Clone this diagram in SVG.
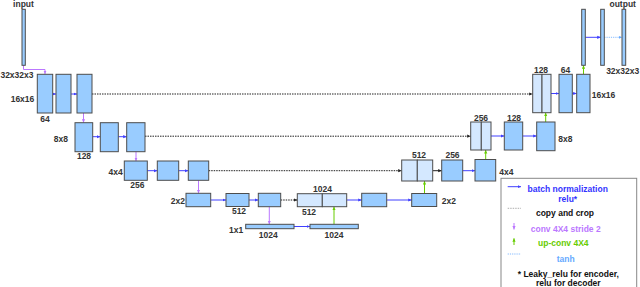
<svg xmlns="http://www.w3.org/2000/svg" width="640" height="287" viewBox="0 0 640 287">
<style>
.b{fill:#99ccff;stroke:#4d4d4d;stroke-width:1}
.l{fill:#d4e8ff;stroke:#4d4d4d;stroke-width:1}
.t{font-family:"Liberation Sans",Arial,sans-serif;font-weight:bold;font-size:8.5px;fill:#333}
.m{text-anchor:middle}
.e{text-anchor:end}
.cb{stroke:#4040ff;stroke-width:1;fill:none}
.ck{stroke:#222;stroke-width:1;stroke-dasharray:1.5 1;fill:none}
.cp{stroke:#bb77ff;stroke-width:1;fill:none}
.cg{stroke:#66cc00;stroke-width:1;fill:none}
.cl{stroke:#66aaff;stroke-width:0.8;stroke-dasharray:1.2 1;fill:none}
</style>
<defs>
<marker id="ab" markerUnits="userSpaceOnUse" markerWidth="4" markerHeight="4" refX="3.5" refY="2" orient="auto"><path d="M0,0.4L3.5,2L0,3.6z" fill="#4040ff"/></marker>
<marker id="ak" markerUnits="userSpaceOnUse" markerWidth="4" markerHeight="4" refX="3.5" refY="2" orient="auto"><path d="M0,0.4L3.5,2L0,3.6z" fill="#222"/></marker>
<marker id="ap" markerUnits="userSpaceOnUse" markerWidth="4" markerHeight="4" refX="3.5" refY="2" orient="auto"><path d="M0,0.4L3.5,2L0,3.6z" fill="#bb77ff"/></marker>
<marker id="ag" markerUnits="userSpaceOnUse" markerWidth="4" markerHeight="4" refX="3.5" refY="2" orient="auto"><path d="M0,0.4L3.5,2L0,3.6z" fill="#66cc00"/></marker>
<marker id="al" markerUnits="userSpaceOnUse" markerWidth="4" markerHeight="4" refX="3.5" refY="2" orient="auto"><path d="M0,0.4L3.5,2L0,3.6z" fill="#66aaff"/></marker>
</defs>
<rect width="640" height="287" fill="#fff"/>

<g id="connectors">
<path class="cp" d="M23.5,65.3V69.5H45V74" marker-end="url(#ap)"/>
<path class="cb" d="M53,94H56" marker-end="url(#ab)"/>
<path class="cb" d="M71,94H77" marker-end="url(#ab)"/>
<path class="ck" d="M92,94H532.7" marker-end="url(#ak)"/>
<path class="cp" d="M83.5,113V122.7" marker-end="url(#ap)"/>
<path class="cb" d="M92.7,136.7H100.3" marker-end="url(#ab)"/>
<path class="cb" d="M118.3,136.7H126.7" marker-end="url(#ab)"/>
<path class="ck" d="M145,136.2H470.7" marker-end="url(#ak)"/>
<path class="cp" d="M136,151.7V161" marker-end="url(#ap)"/>
<path class="cb" d="M147.3,170.7H157.3" marker-end="url(#ab)"/>
<path class="cb" d="M178.7,170.7H188.3" marker-end="url(#ab)"/>
<path class="ck" d="M208.7,170.7H401.7" marker-end="url(#ak)"/>
<path class="cp" d="M198.5,180.3V193.3" marker-end="url(#ap)"/>
<path class="cb" d="M210.7,200H226" marker-end="url(#ab)"/>
<path class="cb" d="M249,200H258.3" marker-end="url(#ab)"/>
<path class="ck" d="M280.7,200H297.3" marker-end="url(#ak)"/>
<path class="cp" d="M269.3,206.7V224.3" marker-end="url(#ap)"/>
<path class="cb" d="M294,226.5H310" marker-end="url(#ab)"/>
<path class="cg" d="M334,224.3V206.7" marker-end="url(#ag)"/>
<path class="cb" d="M346.7,200H361.7" marker-end="url(#ab)"/>
<path class="cb" d="M386.7,200H411.7" marker-end="url(#ab)"/>
<path class="cg" d="M424.5,193.5V181" marker-end="url(#ag)"/>
<path class="ck" d="M432.7,170.7H441.7" marker-end="url(#ak)" style="stroke-dasharray:none"/>
<path class="cb" d="M462.7,170.7H475" marker-end="url(#ab)"/>
<path class="cg" d="M485.7,159.5V150" marker-end="url(#ag)"/>
<path class="cb" d="M491,136H504.3" marker-end="url(#ab)"/>
<path class="cb" d="M522.7,136H536.7" marker-end="url(#ab)"/>
<path class="cg" d="M545.7,122V112.7" marker-end="url(#ag)"/>
<path class="cb" d="M551,93.5H559" marker-end="url(#ab)"/>
<path class="cb" d="M572.3,93.5H576.7" marker-end="url(#ab)"/>
<path class="cg" d="M583.5,74.3V65.3" marker-end="url(#ag)"/>
<path class="cb" d="M585.3,37.3H600.7" marker-end="url(#ab)"/>
<path class="cl" d="M604.3,37.3H622" marker-end="url(#al)"/>
</g>

<g id="input"><rect class="b" x="22" y="9.3" width="3.3" height="56"/><text class="t m" x="23.5" y="7">input</text></g>

<g id="enc1a"><rect class="b" x="37.3" y="74.3" width="15.4" height="38.7"/><text class="t e" x="33.5" y="78">32x32x3</text><text class="t e" x="34.3" y="102">16x16</text><text class="t m" x="45" y="122">64</text></g>
<g id="enc1b"><rect class="b" x="56" y="74.3" width="15" height="38.7"/></g>
<g id="enc1c"><rect class="b" x="77" y="74.3" width="15" height="38.7"/></g>

<g id="enc2a"><rect class="b" x="75" y="122.7" width="17.7" height="29"/><text class="t e" x="68" y="141.7">8x8</text><text class="t m" x="84" y="159.3">128</text></g>
<g id="enc2b"><rect class="b" x="100.3" y="122.7" width="18" height="29"/></g>
<g id="enc2c"><rect class="b" x="126.7" y="122.7" width="18.3" height="29"/></g>

<g id="enc3a"><rect class="b" x="124.3" y="161" width="23" height="19.3"/><text class="t e" x="122.7" y="174.7">4x4</text><text class="t m" x="137.3" y="187.5">256</text></g>
<g id="enc3b"><rect class="b" x="157.3" y="161" width="21.4" height="19.3"/></g>
<g id="enc3c"><rect class="b" x="188.3" y="161" width="20.4" height="19.3"/></g>

<g id="enc4a"><rect class="b" x="186" y="193.3" width="24.7" height="13.4"/><text class="t e" x="185" y="203.7">2x2</text></g>
<g id="enc4b"><rect class="b" x="226" y="193.5" width="23" height="13"/><text class="t m" x="239" y="214.3">512</text></g>
<g id="enc4c"><rect class="b" x="258.3" y="193.3" width="22.4" height="13.4"/></g>

<g id="bottom1"><rect class="b" x="245.7" y="224.3" width="48.3" height="4.4"/><text class="t e" x="243.3" y="232.5">1x1</text><text class="t m" x="268.3" y="237.7">1024</text></g>
<g id="bottom2"><rect class="b" x="310" y="224.3" width="48.3" height="4.4"/><text class="t m" x="334" y="237.7">1024</text></g>

<g id="mid4"><rect class="l" x="297.3" y="193.7" width="25" height="13"/><rect class="l" x="322.3" y="193.7" width="24.4" height="13"/><text class="t m" x="322.5" y="192">1024</text><text class="t m" x="309" y="215.3">512</text></g>

<g id="dec4a"><rect class="b" x="361.7" y="193.3" width="25" height="13.4"/></g>
<g id="dec4b"><rect class="b" x="411.7" y="193.5" width="25" height="13"/><text class="t" x="441.7" y="203.5">2x2</text></g>

<g id="dec3a"><rect class="l" x="401.7" y="160" width="15.6" height="21"/><rect class="l" x="417.3" y="160" width="15.4" height="21"/><text class="t m" x="419" y="158.3">512</text></g>
<g id="dec3b"><rect class="b" x="441.7" y="160" width="21" height="21"/><text class="t m" x="452.5" y="158.3">256</text></g>
<g id="dec3c"><rect class="b" x="475" y="159.5" width="20.7" height="21.5"/><text class="t" x="499.3" y="174.7">4x4</text></g>

<g id="dec2a"><rect class="l" x="470.7" y="122" width="10.6" height="28"/><rect class="l" x="481.3" y="122" width="9.7" height="28"/><text class="t m" x="481" y="121">256</text></g>
<g id="dec2b"><rect class="b" x="504.3" y="122" width="18.4" height="28"/><text class="t m" x="514" y="121">128</text></g>
<g id="dec2c"><rect class="b" x="536.7" y="122" width="18.3" height="28.7"/><text class="t" x="558.3" y="141.5">8x8</text></g>

<g id="dec1a"><rect class="l" x="532.7" y="74.3" width="9.3" height="38.4"/><rect class="l" x="542" y="74.3" width="9" height="38.4"/><text class="t m" x="541" y="73.3">128</text></g>
<g id="dec1b"><rect class="b" x="559" y="74.3" width="13.3" height="38.4"/><text class="t m" x="565.5" y="73.3">64</text></g>
<g id="dec1c"><rect class="b" x="576.7" y="74.3" width="13.3" height="38.4"/><text class="t" x="591.7" y="97.5">16x16</text></g>

<g id="out1"><rect class="b" x="581.7" y="9.3" width="3.6" height="56"/></g>
<g id="out2"><rect class="b" x="600.7" y="9.3" width="3.6" height="56"/></g>
<g id="output"><rect class="b" x="622" y="9.3" width="3.7" height="56"/><text class="t m" x="622.7" y="7">output</text><text class="t m" x="622.7" y="74">32x32x3</text></g>

<g id="legend">
<rect x="501" y="178.3" width="135.7" height="120" fill="#fff" stroke="#888" stroke-width="1"/>
<path class="cb" d="M507.7,186.7H521" marker-end="url(#ab)"/>
<text class="t m" x="567.7" y="192" style="fill:#3333ff">batch normalization</text>
<text class="t m" x="567.7" y="202" style="fill:#3333ff">relu*</text>
<path d="M507.7,208.3H521" stroke="#999" stroke-width="0.8" stroke-dasharray="1.5 1"/>
<text class="t m" x="565" y="216" style="fill:#111">copy and crop</text>
<path class="cp" d="M514,223V229.5" marker-end="url(#ap)"/>
<text class="t m" x="565.7" y="232" style="fill:#bb77ff">conv 4X4 stride 2</text>
<path class="cg" d="M514,245V238.3" marker-end="url(#ag)"/>
<text class="t m" x="563.3" y="246" style="fill:#66cc00">up-conv 4X4</text>
<path class="cl" d="M507.7,254H521"/>
<text class="t m" x="565.7" y="261.5" style="fill:#66aaff">tanh</text>
<text class="t m" x="568.3" y="277" style="fill:#111">* Leaky_relu for encoder,</text>
<text class="t m" x="568.3" y="286" style="fill:#111">relu for decoder</text>
</g>
</svg>
